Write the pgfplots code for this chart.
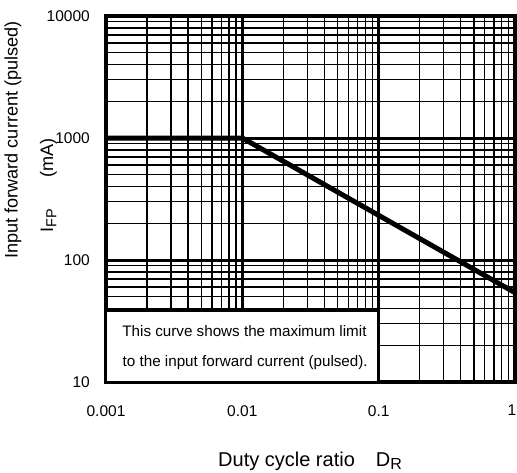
\documentclass[border=0pt]{standalone}
\usepackage{fontspec}
\setmainfont{Liberation Sans}
\usepackage{pgfplots}
\pgfplotsset{compat=1.18}

\begin{document}
\begin{tikzpicture}[x=1pt,y=1pt]
\useasboundingbox (-106,-90) rectangle (411,382);
\begin{axis}[
    at={(0,0)}, anchor=south west,
    scale only axis,
    width=409pt, height=366pt,
    xmode=log, ymode=log,
    xmin=0.001, xmax=1,
    ymin=10, ymax=10000,
    xtick={0.001,0.01,0.1,1},
    xticklabels={0.001,0.01,0.1,\hspace*{-6pt}1},
    ytick={10,100,1000,10000},
    yticklabels={10,100,1000,10000},
    major tick length=0pt, minor tick length=0pt,
    grid=both,
    major grid style={black, line width=3pt},
    minor grid style={black, line width=1.4pt},
    axis line style={black, line width=3.4pt},
    tick label style={font=\fontsize{15.5}{18}\selectfont, inner sep=0pt},
    /pgf/number format/assume math mode=true,
    xticklabel style={anchor=north, yshift=-23pt},
    yticklabel style={anchor=east, xshift=-16pt},
    clip=false,
]
% rated curve
\addplot[black, line width=5pt, line cap=butt] coordinates {
    (0.001,1000) (0.01,1000) (1,54)
};
\filldraw[fill=white, draw=black, line width=3pt]
    (axis cs:0.001,10) rectangle (axis cs:0.1,38.2);
\node[anchor=base, inner sep=0pt, font=\fontsize{15.2}{18}\selectfont]
    at (axis cs:0.01037,23.4) {This curve shows the maximum limit};
\node[anchor=base, inner sep=0pt, font=\fontsize{15.2}{18}\selectfont]
    at (axis cs:0.0105,13.3) {to the input forward current (pulsed).};
\end{axis}
\node[rotate=90, inner sep=0pt, font=\fontsize{18.1}{21}\selectfont] at (-93,242) {Input forward current (pulsed)};
\node[rotate=90, inner sep=0pt, font=\fontsize{18.1}{21}\selectfont] at (-57.5,224) {(mA)};
\node[rotate=90, inner sep=0pt, font=\fontsize{18.1}{21}\selectfont] at (-57.5,161) {I\raisebox{-0.35ex}{\fontsize{14.5}{16}\selectfont FP}};
\node[anchor=base west, inner sep=0pt, font=\fontsize{20}{24}\selectfont] at (112,-84) {Duty cycle ratio\hspace{1.05em}D\raisebox{-0.35ex}{\fontsize{16}{18}\selectfont R}};
\end{tikzpicture}
\end{document}
